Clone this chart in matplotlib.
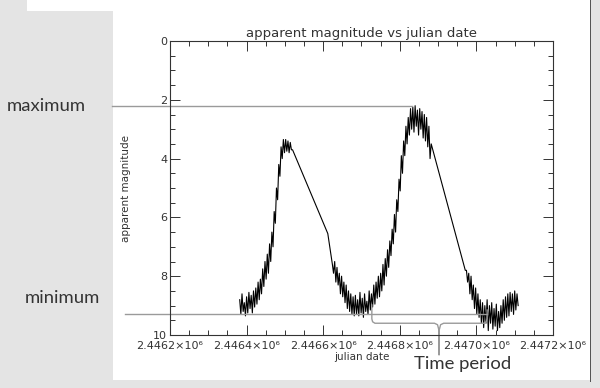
import matplotlib.pyplot as plt
import numpy as np
from matplotlib.patches import Rectangle
from matplotlib.ticker import MultipleLocator, FuncFormatter
from matplotlib.transforms import blended_transform_factory

JD_BASE = 2446200
X_MIN, X_MAX = 2446200, 2447200

# light curve, days counted from JD_BASE
rise1_days = [182, 185, 188, 191, 194, 197, 200, 203, 206, 209,
              212, 215, 218, 221, 224, 227, 230, 233, 236, 239,
              242, 245, 248, 251, 254, 257, 260, 263, 266, 269,
              272, 275, 278, 281, 284, 287, 290, 293, 296, 299,
              302, 305, 308, 311, 314, 317, 320]
rise1_mag = [8.8, 9.3, 8.6, 9.2, 8.9, 9.35, 8.7, 9.25, 8.55, 9.1,
             8.65, 9.25, 8.5, 9.05, 8.4, 8.95, 8.2, 8.8, 8.1, 8.6,
             7.75, 8.35, 7.5, 8.1, 7.25, 7.9, 6.9, 7.5, 6.5, 7.0,
             5.8, 6.2, 5.0, 5.4, 4.2, 4.6, 3.6, 4.0, 3.35, 3.8,
             3.35, 3.75, 3.4, 3.8, 3.45, 3.7, 3.7]

gap1_days = [412]
gap1_mag = [6.55]

cycle2_days = [424, 427, 430, 433, 436, 439, 442, 445, 448, 451,
               454, 457, 460, 463, 466, 469, 472, 475, 478, 481,
               484, 487, 490, 493, 496, 499, 502, 505, 508, 511,
               514, 517, 520, 523, 526, 529, 532, 535, 538, 541,
               544, 547, 550, 553, 556, 559, 562, 565, 568, 571,
               574, 577, 580, 583, 586, 589, 592, 595, 598, 601,
               604, 607, 610, 613, 616, 619, 622, 625, 628, 631,
               634, 637, 640, 643, 646, 649, 652, 655, 658, 661,
               664, 667, 670, 673, 676, 679, 682]
cycle2_mag = [7.6, 7.9, 7.5, 8.2, 7.7, 8.3, 7.9, 8.6, 8.0, 8.7,
              8.2, 8.9, 8.3, 9.1, 8.5, 9.2, 8.6, 9.3, 8.7, 9.35,
              8.65, 9.3, 8.8, 9.35, 8.55, 9.25, 8.75, 9.4, 8.6, 9.2,
              8.85, 9.3, 8.5, 9.15, 8.6, 9.05, 8.3, 8.95, 8.2, 8.75,
              8.0, 8.7, 7.9, 8.5, 7.6, 8.3, 7.4, 8.0, 7.1, 7.7,
              6.8, 7.3, 6.4, 6.9, 5.9, 6.5, 5.4, 5.8, 4.7, 5.1,
              3.9, 4.5, 3.4, 3.9, 2.9, 3.5, 2.6, 3.2, 2.3, 3.0,
              2.25, 3.1, 2.2, 2.9, 2.35, 3.2, 2.3, 3.0, 2.4, 3.3,
              2.5, 3.4, 2.6, 3.6, 2.9, 4.0, 3.5]

gap2_days = [771]
gap2_mag = [7.8]

tail_days = [774, 777, 780, 783, 786, 789, 792, 795, 798, 801,
             804, 807, 810, 813, 816, 819, 822, 825, 828, 831,
             834, 837, 840, 843, 846, 849, 852, 855, 858, 861,
             864, 867, 870, 873, 876, 879, 882, 885, 888, 891,
             894, 897, 900, 903, 906, 909]
tail_mag = [7.8, 8.2, 7.9, 8.6, 8.0, 8.8, 8.3, 9.1, 8.4, 9.3,
            8.6, 9.4, 8.8, 9.6, 8.9, 9.75, 9.0, 9.6, 8.8, 9.85,
            9.0, 9.6, 8.9, 9.8, 9.1, 9.7, 8.95, 9.85, 9.2, 9.75,
            9.0, 9.6, 8.8, 9.5, 8.7, 9.4, 8.6, 9.35, 8.55, 9.2,
            8.6, 9.3, 8.5, 9.15, 8.6, 9.0]

# annotation levels
max_mag = 2.2
min_mag = 9.3
max_line_end = 632
period_start, period_end = 527, 828

days = JD_BASE + np.array(rise1_days + gap1_days + cycle2_days + gap2_days + tail_days)
mags = np.array(rise1_mag + gap1_mag + cycle2_mag + gap2_mag + tail_mag)

W, H = 600, 388
fig = plt.figure(figsize=(6, 3.88), dpi=100, facecolor="#e4e4e4")


def fig_rect(x0, y0, x1, y1, color):
    fig.add_artist(Rectangle((x0 / W, 1 - y1 / H), (x1 - x0) / W, (y1 - y0) / H,
                             transform=fig.transFigure, facecolor=color,
                             edgecolor="none", zorder=-5))


fig_rect(113, 0, 590, 380, "white")
fig_rect(27, 0, 113, 11, "white")
fig_rect(589.5, 0, 591, 382, "#555555")

ax = fig.add_axes([170 / W, 1 - 335 / H, 383 / W, 294 / H])
ax.plot(days, mags, color="black", lw=0.8)

ax.set_xlim(X_MIN, X_MAX)
ax.set_ylim(10, 0)
ax.xaxis.set_major_locator(MultipleLocator(200))
ax.xaxis.set_minor_locator(MultipleLocator(50))
ax.yaxis.set_major_locator(MultipleLocator(2))
ax.yaxis.set_minor_locator(MultipleLocator(0.5))
ax.xaxis.set_major_formatter(FuncFormatter(lambda v, p: f"{v / 1e6:.4f}×10⁶"))
ax.yaxis.set_major_formatter(FuncFormatter(lambda v, p: f"{v:.0f}"))
ax.tick_params(which="both", direction="in", top=True, right=True,
               color="#333333", labelcolor="#333333", labelsize=8, width=0.7)
ax.tick_params(which="major", length=7, pad=2)
ax.tick_params(axis="x", which="major", pad=4)
ax.tick_params(which="minor", length=3.5)
for s in ax.spines.values():
    s.set_color("#333333")
    s.set_linewidth(0.8)

ax.set_title("apparent magnitude vs julian date", fontsize=9.5, color="#333333", pad=3)
ax.set_xlabel("julian date", fontsize=7.5, color="#333333", labelpad=1)
ax.set_ylabel("apparent magnitude", fontsize=7.5, color="#333333", labelpad=16)

# annotations: max / min levels and the time-period brace
trans = blended_transform_factory(ax.transAxes, ax.transData)


def ax_x(d):
    return (JD_BASE + d - X_MIN) / (X_MAX - X_MIN)


ann = dict(color="#9a9a9a", lw=1.0, clip_on=False)
ax.plot([(112 - 170) / 383, ax_x(max_line_end)], [max_mag, max_mag], transform=trans, **ann)
ax.plot([(125 - 170) / 383, ax_x(period_end)], [min_mag, min_mag], transform=trans, **ann)

tip = (period_start + period_end) / 2 + 25
brace_d = [period_start, period_start, period_start + 2, period_start + 8,
           tip - 12, tip - 4, tip - 1, tip, tip, tip + 1, tip + 4, tip + 12,
           period_end - 8, period_end - 2, period_end, period_end]
brace_m = [8.98, 9.45, 9.55, 9.6, 9.6, 9.65, 9.8, 10.68, 9.8, 9.8, 9.65, 9.6,
           9.6, 9.55, 9.45, 9.15]
ax.plot([ax_x(d) for d in brace_d], brace_m, transform=trans, **ann)

txt = dict(fontsize=13.3, color="#333333", family="Lato", va="center")
fig.text(7 / W, 1 - 106 / H, "maximum", ha="left", **txt)
fig.text(25 / W, 1 - 298 / H, "minimum", ha="left", **txt)
fig.text(463 / W, 1 - 364 / H, "Time period", ha="center", **txt)

fig.savefig("out.png", dpi=100, facecolor=fig.get_facecolor())
